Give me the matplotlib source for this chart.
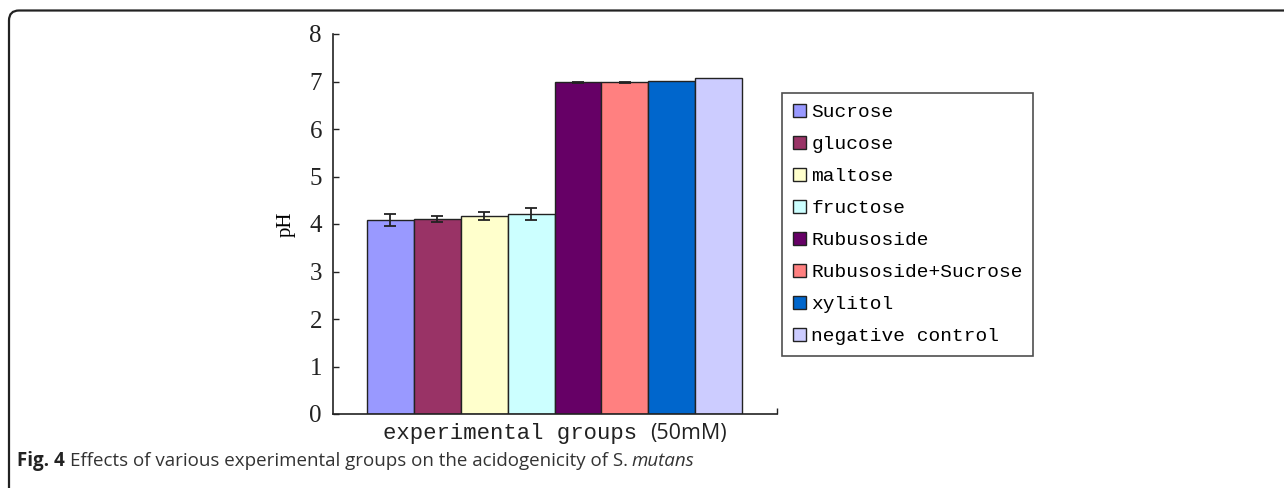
import matplotlib
matplotlib.use("Agg")
import matplotlib.pyplot as plt
from matplotlib.patches import FancyBboxPatch
from matplotlib.transforms import IdentityTransform

groups = ["Sucrose", "glucose", "maltose", "fructose", "Rubusoside",
          "Rubusoside+Sucrose", "xylitol", "negative control"]
ph = [4.08, 4.11, 4.17, 4.21, 6.98, 6.98, 7.01, 7.08]
err = [0.13, 0.06, 0.09, 0.12, 0.01, 0.01, 0.0, 0.0]
colors = ["#9999FF", "#993366", "#FFFFCC", "#CCFFFF", "#660066",
          "#FF8080", "#0066CC", "#CCCCFF"]
yticks = [0, 1, 2, 3, 4, 5, 6, 7, 8]

W, H = 1284, 488
fig = plt.figure(figsize=(W / 100, H / 100), dpi=100)
ax = fig.add_axes([333 / W, 74 / H, 444 / W, 380 / H])

serif = "Liberation Serif"
mono = "Liberation Mono"
ink = "#222222"

for i, (v, e, c, g) in enumerate(zip(ph, err, colors, groups)):
    ax.bar(i, v, width=1.0, color=c, edgecolor=ink, linewidth=1.0, label=g)
    if e > 0:
        ax.errorbar(i, v, yerr=e, fmt="none", ecolor=ink, elinewidth=1.3,
                    capsize=4.5, capthick=1.3)

ax.set_xlim(-1.22, 8.24)
ax.set_ylim(0, 8)
ax.set_yticks(yticks)
ax.set_yticklabels([str(t) for t in yticks], fontfamily=serif, fontsize=18)
ax.set_xticks([8.24])
ax.set_xticklabels([""])
ax.tick_params(axis="y", direction="in", length=4, width=1, pad=8, colors=ink)
ax.tick_params(axis="x", direction="in", length=4, width=1, colors=ink)
for s in ("top", "right"):
    ax.spines[s].set_visible(False)
for s in ("left", "bottom"):
    ax.spines[s].set_color(ink)
    ax.spines[s].set_linewidth(1.2)
ax.set_ylabel("pH", fontfamily=serif, fontsize=15, labelpad=10)

leg = ax.legend(loc="upper left", bbox_to_anchor=(782 / W, 1 - 93 / H), bbox_transform=fig.transFigure,
                prop={"family": mono, "size": 14}, frameon=True, fancybox=False,
                edgecolor=ink, handlelength=0.7, handleheight=0.7,
                handletextpad=0.25, labelspacing=0.74, borderpad=0.55, borderaxespad=0)
leg.get_frame().set_linewidth(1.2)

fig.text(383 / W, 1 - 434 / H, "experimental groups", fontfamily=mono, fontsize=16,
         va="center", ha="left", color=ink)
fig.text(650 / W, 1 - 434 / H, "(50mM)", fontfamily="Open Sans", fontsize=15.5,
         va="center", ha="left", color=ink)

# caption
t1 = fig.text(17 / W, 1 - 461 / H, "Fig. 4", fontfamily="Open Sans", fontweight="bold",
              fontsize=13.5, va="center", ha="left", color=ink)
fig.canvas.draw()
r = fig.canvas.get_renderer()
x = t1.get_window_extent(r).x1 + 5
t2 = fig.text(x / W, 1 - 461 / H, "Effects of various experimental groups on the acidogenicity of S.",
              fontfamily="Open Sans", fontsize=13.5, va="center", ha="left", color="#333333")
x = t2.get_window_extent(r).x1 + 4
fig.text(x / W, 1 - 461 / H, "mutans", fontfamily="Open Sans", fontstyle="italic",
         fontsize=13.5, va="center", ha="left", color="#333333")

# outer frame (top and left edges with rounded corner)
frame = FancyBboxPatch((9, -40), 1400, H - 10.5 + 40, boxstyle="round,pad=0,rounding_size=10",
                       transform=IdentityTransform(), facecolor="none", edgecolor=ink,
                       linewidth=1.6)
fig.patches.append(frame)

fig.savefig("out.png", dpi=100, facecolor="white")
